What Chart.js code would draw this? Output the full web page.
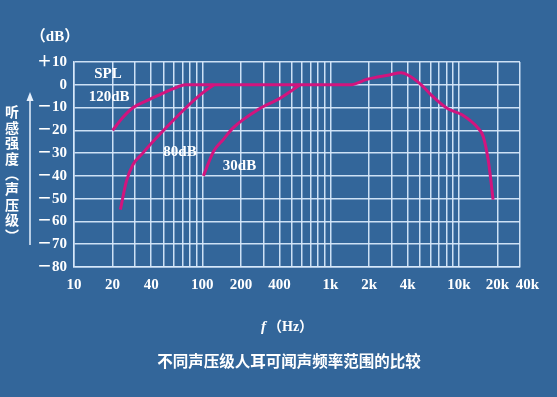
<!DOCTYPE html>
<html>
<head>
<meta charset="utf-8">
<script src="https://cdn.jsdelivr.net/npm/chart.js@4/dist/chart.umd.min.js"></script>
<style>
  html, body { margin: 0; padding: 0; background: #33669a; }
  #wrap { width: 557px; height: 397px; }
</style>
</head>
<body>
<div id="wrap"><canvas id="splChart" width="557" height="397"></canvas></div>
<script>
// === DATA ===
// frequency (Hz) / level (dB)
const spl120Freq = [20, 24, 29, 36.6, 46, 59, 74, 200, 500, 1000, 1420, 1930, 2870, 3550, 4000, 5100, 6100, 8100, 10600, 14100, 15500, 17100, 18500];
const spl120Db   = [-20, -14.4, -10, -7.1, -4.5, -1.8, 0, 0, 0, 0, 0, 2.4, 4.3, 5.3, 4.3, 0, -4.5, -10.3, -13.2, -19, -22.7, -34.4, -50.4];

const spl80Freq = [23, 25.6, 28.8, 34.4, 42, 52, 74, 100, 123];
const spl80Db   = [-54.8, -42.4, -35.1, -30, -24.5, -19, -10.3, -3.7, 0];

const spl30Freq = [102, 123, 146, 174, 272, 407, 580];
const spl30Db   = [-40, -29.1, -24, -18.9, -10.9, -5.8, 0];

// x grid lines (1..9 per decade) and the labelled ones
const xGrid = [10, 20, 30, 40, 50, 60, 70, 80, 90,
  100, 200, 300, 400, 500, 600, 700, 800, 900,
  1000, 2000, 3000, 4000, 5000, 6000, 7000, 8000, 9000,
  10000, 20000, 30000];
const xTickValues = [10, 20, 40, 100, 200, 400, 1000, 2000, 4000, 10000, 20000, 30000];
const xTickLabels = ["10", "20", "40", "100", "200", "400", "1k", "2k", "4k", "10k", "20k", "40k"];

const yMin = -80, yMax = 10, yStep = 10;

// curve labels, anchored in data coordinates
const curveLabels = [
  { text: "SPL",   f: 18.4, db: 4.7 },
  { text: "120dB", f: 18.8, db: -5.6 },
  { text: "80dB",  f: 67,   db: -29.4 },
  { text: "30dB",  f: 195,  db: -35.5 }
];

const sideLabel = ["听", "感", "强", "度", "︵", "声", "压", "级", "︶"];

// === HELPERS ===
const BG = "#33669a";
const GRID = "rgba(214,232,250,0.95)";
const CURVE = "#d2147e";
const SERIF = '"Liberation Serif", "Times New Roman", "Noto Sans CJK SC", serif';
const CJK = '"Noto Sans CJK SC", sans-serif';

function toPoints(xs, ys) {
  return xs.map((x, i) => ({ x, y: ys[i] }));
}

function curve(xs, ys) {
  return {
    data: toPoints(xs, ys),
    borderColor: CURVE,
    borderWidth: 3,
    pointRadius: 0,
    fill: false,
    cubicInterpolationMode: "monotone"
  };
}

function fmtDb(v) {
  if (v > 0) return "＋" + v;
  if (v < 0) return "－" + Math.abs(v);
  return "0";
}

const decorPlugin = {
  id: "decor",
  beforeDraw(chart) {
    const c = chart.ctx;
    c.save();
    c.fillStyle = BG;
    c.fillRect(0, 0, chart.width, chart.height);
    c.restore();
  },
  afterDraw(chart) {
    const c = chart.ctx;
    const xs = chart.scales.x, ys = chart.scales.y;
    c.save();
    c.fillStyle = "#ffffff";
    c.textBaseline = "middle";

    // unit
    c.textAlign = "center";
    c.font = "bold 15px " + SERIF;
    c.fillText("（dB）", 55, 37);

    // curve labels
    c.font = "bold 15px " + SERIF;
    curveLabels.forEach(l => {
      c.fillText(l.text, xs.getPixelForValue(l.f), ys.getPixelForValue(l.db));
    });

    // vertical side label + arrow
    c.font = "bold 14px " + CJK;
    sideLabel.forEach((ch, i) => c.fillText(ch, 12, 112 + i * 15.4));
    c.strokeStyle = "#e6f0fc";
    c.lineWidth = 1.5;
    c.beginPath();
    c.moveTo(30, 245);
    c.lineTo(30, 99);
    c.stroke();
    c.fillStyle = "#e6f0fc";
    c.beginPath();
    c.moveTo(30, 92);
    c.lineTo(26.5, 101);
    c.lineTo(33.5, 101);
    c.closePath();
    c.fill();

    // x axis title: f（Hz）
    c.fillStyle = "#ffffff";
    c.textAlign = "left";
    c.font = "italic bold 15px " + SERIF;
    c.fillText("f", 261, 327);
    c.font = "bold 14px " + SERIF;
    c.fillText("（Hz）", 268, 327);

    // caption
    c.textAlign = "center";
    c.font = "bold 15.5px " + CJK;
    c.fillText("不同声压级人耳可闻声频率范围的比较", 289, 361);
    c.restore();
  }
};

// === CHART ===
new Chart(document.getElementById("splChart"), {
  type: "line",
  data: {
    datasets: [
      curve(spl120Freq, spl120Db),
      curve(spl80Freq, spl80Db),
      curve(spl30Freq, spl30Db)
    ]
  },
  options: {
    responsive: false,
    animation: false,
    layout: { padding: { left: 0, top: 62, right: 37, bottom: 92 } },
    plugins: { legend: { display: false }, tooltip: { enabled: false } },
    scales: {
      x: {
        type: "logarithmic",
        min: 10,
        max: 30000,
        afterBuildTicks: scale => { scale.ticks = xGrid.map(v => ({ value: v })); },
        afterFit: scale => { scale.height = 38; },
        grid: { color: GRID, lineWidth: 1.5, drawTicks: false },
        border: { color: GRID, width: 1.5 },
        ticks: {
          autoSkip: false,
          maxRotation: 0,
          padding: 9,
          color: "#ffffff",
          font: { family: SERIF, size: 15, weight: "bold" },
          callback: v => {
            const i = xTickValues.indexOf(v);
            if (i < 0) return "";
            // the last label sits just right of the frame edge
            return v === 30000 ? "\u2002\u2002" + xTickLabels[i] : xTickLabels[i];
          }
        }
      },
      y: {
        min: yMin,
        max: yMax,
        afterFit: scale => { scale.width = 74; },
        grid: { color: GRID, lineWidth: 1.5, drawTicks: false },
        border: { color: GRID, width: 1.5 },
        ticks: {
          stepSize: yStep,
          padding: 7,
          color: "#ffffff",
          font: { family: SERIF, size: 15, weight: "bold" },
          callback: v => fmtDb(v)
        }
      }
    }
  },
  plugins: [decorPlugin]
});
</script>
</body>
</html>
